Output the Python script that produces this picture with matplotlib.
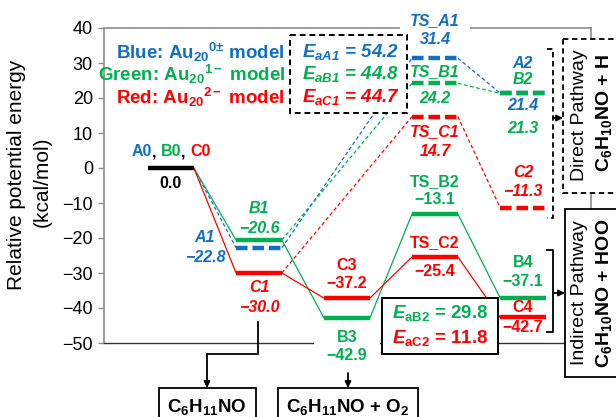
import matplotlib
matplotlib.use("Agg")
import matplotlib.pyplot as plt
import matplotlib.transforms as mtransforms
from matplotlib.patches import Rectangle
from matplotlib.offsetbox import TextArea, HPacker, AnnotationBbox

plt.rcParams['font.family'] = ['Liberation Sans', 'DejaVu Sans']
plt.rcParams['mathtext.fontset'] = 'custom'
plt.rcParams['mathtext.rm'] = 'Liberation Sans'
plt.rcParams['mathtext.it'] = 'Liberation Sans:italic:bold'
plt.rcParams['mathtext.bf'] = 'Liberation Sans:bold'
plt.rcParams['mathtext.default'] = 'regular'

BLUE = '#1170C4'
GREEN = '#00B050'
RED = '#FF0000'
MINUS = '\u2212'

# ---- energies (kcal/mol) ----
# direct pathway: start, adsorbed, transition state, product
direct_cols = [0, 1, 3, 4]
A_direct = [0.0, -22.8, 31.4, 21.4]
B_direct = [0.0, -20.6, 24.2, 21.3]
C_direct = [0.0, -30.0, 14.7, -11.3]
A_direct_names = ['A0', 'A1', 'TS_A1', 'A2']
B_direct_names = ['B0', 'B1', 'TS_B1', 'B2']
C_direct_names = ['C0', 'C1', 'TS_C1', 'C2']

# indirect pathway: adsorbed, O2 complex, transition state, product
indirect_cols = [1, 2, 3, 4]
B_indirect = [-20.6, -42.9, -13.1, -37.1]
C_indirect = [-30.0, -37.2, -25.4, -42.7]
B_indirect_names = ['B1', 'B3', 'TS_B2', 'B4']
C_indirect_names = ['C1', 'C3', 'TS_C2', 'C4']

# activation barriers
Ea1_names = ['aA1', 'aB1', 'aC1']
Ea1_values = [54.2, 44.8, 44.7]
Ea2_names = ['aB2', 'aC2']
Ea2_values = [29.8, 11.8]

yticks = [-50, -40, -30, -20, -10, 0, 10, 20, 30, 40]

W, H = 616, 417
fig = plt.figure(figsize=(W / 100, H / 100), dpi=100)
ax = fig.add_axes([104 / W, 1 - 343 / H, (591 - 104) / W, (343 - 28) / H])
ax.set_xlim(-0.761, 4.773)
ax.set_ylim(-50, 40)
ax.set_xticks([])
ax.set_yticks(yticks)
ax.tick_params(axis='y', direction='out', length=4, width=1, color='#8c8c8c',
               labelsize=13, pad=4)
for s in ['left', 'top', 'right']:
    ax.spines[s].set_color('#8c8c8c')
    ax.spines[s].set_linewidth(1.2)
ax.spines['bottom'].set_color('#333333')
ax.spines['bottom'].set_linewidth(1.0)

# pixel transform (origin top-left) for annotation furniture
px = mtransforms.Affine2D().scale(1 / W, -1 / H).translate(0, 1) + fig.transFigure

# y-axis title, two lines
fig.text(17 / W, 1 - 175 / H, 'Relative potential energy', rotation=90, fontsize=15,
         ha='center', va='center')
fig.text(42 / W, 1 - 182 / H, '(kcal/mol)', rotation=90, fontsize=15,
         ha='center', va='center')

HW = 0.26
BAR_LW = 3.2
CONN_LW = 0.9
BAR_DASH = (0, (2.6, 1.1))
CONN_DASH = (0, (3, 2))
LBL = 11.5


def bar(col, v, color, dashed, z=5):
    ax.plot([col - HW, col + HW], [v, v], color=color, lw=BAR_LW,
            linestyle=BAR_DASH if dashed else '-', solid_capstyle='butt',
            dash_capstyle='butt', zorder=z)


def conn(c0, v0, c1, v1, color, dashed):
    ax.plot([c0 + HW, c1 - HW], [v0, v1], color=color, lw=CONN_LW,
            linestyle=CONN_DASH if dashed else '-', zorder=3)


def fmt(v):
    return f'{v:.1f}'.replace('-', MINUS)


def label(text, col, v, color, dy, dx=0, italic=False, size=LBL, **kw):
    ax.annotate(text, xy=(col, v), xytext=(dx * 0.72, -dy * 0.72),
                textcoords='offset points', ha='center', va='center',
                color=color, fontsize=size, fontweight='bold',
                fontstyle='italic' if italic else 'normal',
                annotation_clip=False, zorder=6, **kw)


# ---- connectors ----
series_direct = [
    (A_direct, BLUE, [True, True, True]),
    (B_direct, GREEN, [False, True, True]),
    (C_direct, RED, [False, True, True]),
]
for vals, color, dashes in series_direct:
    for i in range(len(vals) - 1):
        conn(direct_cols[i], vals[i], direct_cols[i + 1], vals[i + 1], color, dashes[i])

for vals, color in [(B_indirect, GREEN), (C_indirect, RED)]:
    for i in range(len(vals) - 1):
        conn(indirect_cols[i], vals[i], indirect_cols[i + 1], vals[i + 1], color, False)

# ---- levels ----
bar(direct_cols[0], A_direct[0], 'black', False, z=6)
bar(direct_cols[1], A_direct[1], BLUE, True)
bar(direct_cols[2], A_direct[2], BLUE, True)
bar(direct_cols[3], A_direct[3], BLUE, True)
bar(direct_cols[1], B_direct[1], GREEN, False)
bar(direct_cols[2], B_direct[2], GREEN, True)
bar(direct_cols[3], B_direct[3], GREEN, True, z=5.5)
bar(direct_cols[1], C_direct[1], RED, False)
bar(direct_cols[2], C_direct[2], RED, True)
bar(direct_cols[3], C_direct[3], RED, True)
for vals, color in [(B_indirect, GREEN), (C_indirect, RED)]:
    for c, v in zip(indirect_cols[1:], vals[1:]):
        bar(c, v, color, False)

# ---- level labels ----
start_parts = [(A_direct_names[0], BLUE), (', ', 'black'), (B_direct_names[0], GREEN),
               (', ', 'black'), (C_direct_names[0], RED)]
pack = HPacker(children=[TextArea(t, textprops=dict(color=c, fontsize=LBL, fontweight='bold'))
                         for t, c in start_parts], sep=0, pad=0, align='baseline')
ax.add_artist(AnnotationBbox(pack, (direct_cols[0], A_direct[0]), xybox=(0, 16 * 0.72),
                             xycoords='data', boxcoords='offset points', frameon=False,
                             box_alignment=(0.5, 0.5), zorder=6))
label(fmt(A_direct[0]), direct_cols[0], A_direct[0], 'black', 15)

# adsorbed states
label(B_direct_names[1], direct_cols[1], B_direct[1], GREEN, -32, italic=True)
label(fmt(B_direct[1]), direct_cols[1], B_direct[1], GREEN, -12, italic=True)
label(A_direct_names[1], direct_cols[1], A_direct[1], BLUE, -10, dx=-54, italic=True)
label(fmt(A_direct[1]), direct_cols[1], A_direct[1], BLUE, 10, dx=-54, italic=True)
label(C_direct_names[1], direct_cols[1], C_direct[1], RED, 14, italic=True)
label(fmt(C_direct[1]), direct_cols[1], C_direct[1], RED, 34, italic=True)

# first transition states
label(A_direct_names[2], direct_cols[2], A_direct[2], BLUE, -38, italic=True)
label(fmt(A_direct[2]), direct_cols[2], A_direct[2], BLUE, -19, italic=True)
label(B_direct_names[2], direct_cols[2], B_direct[2], GREEN, -12, italic=True)
label(fmt(B_direct[2]), direct_cols[2], B_direct[2], GREEN, 15, italic=True)
label(C_direct_names[2], direct_cols[2], C_direct[2], RED, 15, italic=True)
label(fmt(C_direct[2]), direct_cols[2], C_direct[2], RED, 35, italic=True)

# direct products
label(A_direct_names[3], direct_cols[3], A_direct[3], BLUE, -30, italic=True)
label(fmt(A_direct[3]), direct_cols[3], A_direct[3], BLUE, 12, italic=True)
label(B_direct_names[3], direct_cols[3], B_direct[3], GREEN, -14, italic=True)
label(fmt(B_direct[3]), direct_cols[3], B_direct[3], GREEN, 35, italic=True)
label(C_direct_names[3], direct_cols[3], C_direct[3], RED, -35, italic=True)
label(fmt(C_direct[3]), direct_cols[3], C_direct[3], RED, -16, italic=True)

# indirect pathway
label(B_indirect_names[1], indirect_cols[1], B_indirect[1], GREEN, 19)
label(fmt(B_indirect[1]), indirect_cols[1], B_indirect[1], GREEN, 37)
label(C_indirect_names[1], indirect_cols[1], C_indirect[1], RED, -33)
label(fmt(C_indirect[1]), indirect_cols[1], C_indirect[1], RED, -15)
label(B_indirect_names[2], indirect_cols[2], B_indirect[2], GREEN, -32)
label(fmt(B_indirect[2]), indirect_cols[2], B_indirect[2], GREEN, -14)
label(C_indirect_names[2], indirect_cols[2], C_indirect[2], RED, -14)
label(fmt(C_indirect[2]), indirect_cols[2], C_indirect[2], RED, 15)
label(B_indirect_names[3], indirect_cols[3], B_indirect[3], GREEN, -35)
label(fmt(B_indirect[3]), indirect_cols[3], B_indirect[3], GREEN, -16)
label(C_indirect_names[3], indirect_cols[3], C_indirect[3], RED, -10)
label(fmt(C_indirect[3]), indirect_cols[3], C_indirect[3], RED, 10)

# white gaps in the frame behind the TS_A1 and B3 labels
ax.add_patch(Rectangle((direct_cols[2] - 0.4, 38.3), 0.8, 3.4, fc='white', ec='none',
                       clip_on=False, zorder=2.7))
ax.add_patch(Rectangle((indirect_cols[1] - 0.37, -51.7), 0.74, 3.4, fc='white', ec='none',
                       clip_on=False, zorder=2.7))

# ---- model legend ----
legend_lines = [
    ('Blue: Au$_{20}$$^{0\u00b1}$ model', BLUE),
    ('Green: Au$_{20}$$^{1' + MINUS + '}$ model', GREEN),
    ('Red: Au$_{20}$$^{2' + MINUS + '}$ model', RED),
]
for (txt, c), yy in zip(legend_lines, [52, 74, 97]):
    fig.text(285 / W, 1 - yy / H, txt, color=c, fontsize=13.5, fontweight='bold',
             ha='right', va='center')

# ---- barrier boxes ----
fig.add_artist(Rectangle((290, 35), 117, 78, transform=px, fc='white', ec='black',
                         lw=1.4, linestyle=(0, (3, 2)), zorder=4))
for name, val, c, yy in zip(Ea1_names, Ea1_values, [BLUE, GREEN, RED], [52, 74, 97]):
    fig.text(302 / W, 1 - yy / H, f'E$_{{{name}}}$ = {val:.1f}', color=c, fontsize=13.5,
             fontweight='bold', fontstyle='italic', ha='left', va='center', zorder=5)

fig.add_artist(Rectangle((382, 298), 116, 56, transform=px, fc='white', ec='black',
                         lw=1.4, zorder=4))
for name, val, c, yy in zip(Ea2_names, Ea2_values, [GREEN, RED], [313, 338]):
    fig.text(440 / W, 1 - yy / H, r'$\mathit{E}_{' + name + '}$' + f' = {val:.1f}',
             color=c, fontsize=13.5, fontweight='bold', ha='center', va='center', zorder=5)

# ---- product boxes (right) ----
fig.add_artist(Rectangle((563, 39), 70, 154, transform=px, fc='white', ec='black',
                         lw=1.3, linestyle=(0, (3, 2)), zorder=4))
fig.add_artist(Rectangle((565, 209), 70, 168, transform=px, fc='white', ec='black',
                         lw=1.3, zorder=4))
fig.text(580 / W, 1 - 115 / H, 'Direct Pathway', rotation=90, fontsize=14,
         ha='center', va='center', zorder=5)
fig.text(604 / W, 1 - 113 / H, 'C$_6$H$_{10}$NO + H', rotation=90, fontsize=14,
         fontweight='bold', ha='center', va='center', zorder=5)
fig.text(580 / W, 1 - 293 / H, 'Indirect Pathway', rotation=90, fontsize=14,
         ha='center', va='center', zorder=5)
fig.text(604 / W, 1 - 293 / H, 'C$_6$H$_{10}$NO + HOO', rotation=90, fontsize=14,
         fontweight='bold', ha='center', va='center', zorder=5)

# brackets
fig.add_artist(plt.Line2D([547, 553, 553, 547], [49, 49, 218, 218], transform=px,
                          color='black', lw=1.3, linestyle=(0, (3, 2)), zorder=4))
fig.add_artist(plt.Line2D([547, 553, 553, 547], [250, 250, 332, 332], transform=px,
                          color='black', lw=1.3, zorder=4))

ARROW = dict(arrowstyle='-|>', color='black', lw=1.3, shrinkA=0, shrinkB=0,
             mutation_scale=9)
ax.annotate('', xy=(563, 118), xytext=(553, 118), xycoords=px, textcoords=px,
            arrowprops=ARROW, annotation_clip=False)
ax.annotate('', xy=(565, 293), xytext=(553, 293), xycoords=px, textcoords=px,
            arrowprops=ARROW, annotation_clip=False)

# ---- product boxes (bottom) ----
fig.add_artist(Rectangle((159, 388), 97, 40, transform=px, fc='white', ec='black',
                         lw=1.3, zorder=4))
fig.add_artist(Rectangle((278, 388), 140, 40, transform=px, fc='white', ec='black',
                         lw=1.3, zorder=4))
fig.text(207 / W, 1 - 407 / H, 'C$_6$H$_{11}$NO', fontsize=13.5, fontweight='bold',
         ha='center', va='center', zorder=5)
fig.text(348 / W, 1 - 407 / H, 'C$_6$H$_{11}$NO + O$_2$', fontsize=13.5,
         fontweight='bold', ha='center', va='center', zorder=5)

fig.add_artist(plt.Line2D([258, 258, 207], [322, 354, 354], transform=px,
                          color='black', lw=1.3, zorder=4))
ax.annotate('', xy=(207, 388), xytext=(207, 354), xycoords=px, textcoords=px,
            arrowprops=ARROW, annotation_clip=False)
ax.annotate('', xy=(348, 388), xytext=(348, 373), xycoords=px, textcoords=px,
            arrowprops=ARROW, annotation_clip=False)

fig.savefig('out.png', dpi=100)
